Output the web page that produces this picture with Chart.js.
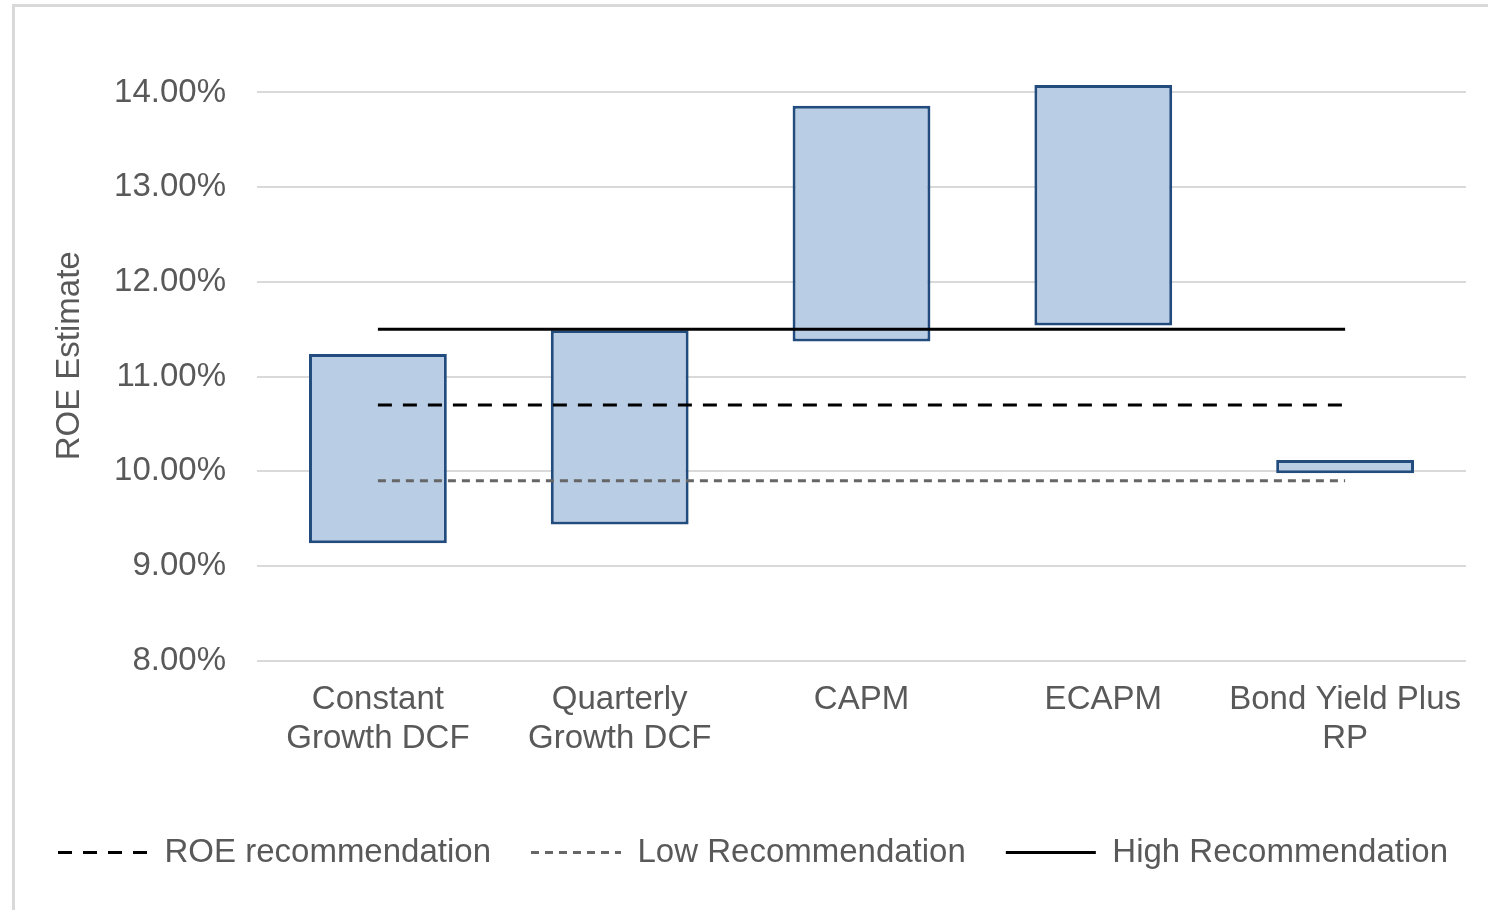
<!DOCTYPE html>
<html>
<head>
<meta charset="utf-8">
<script src="https://cdn.jsdelivr.net/npm/chart.js@4"></script>
<style>
    html, body { margin: 0; padding: 0; background: #fff; }
    #wrap { position: relative; width: 1488px; height: 910px; overflow: hidden; }
    #frame { position: absolute; left: 12px; top: 4px; width: 1500px; height: 940px; border: 3px solid #d9d9d9; }
    #box { position: absolute; left: 0; top: 0; width: 1488px; height: 910px; }
</style>
</head>
<body>
<div id="wrap">
    <div id="frame"></div>
    <div id="box"><canvas id="chart"></canvas></div>
</div>
<script>
    const categories = [
        ['Constant', 'Growth DCF'],
        ['Quarterly', 'Growth DCF'],
        'CAPM',
        'ECAPM',
        ['Bond Yield Plus', 'RP']
    ];
    // range of each estimate, in percent
    const lowValues = [9.24, 9.44, 11.37, 11.54, 9.98];
    const highValues = [11.24, 11.49, 13.86, 14.08, 10.12];

    const roeRecommendation = [10.7, 10.7, 10.7, 10.7, 10.7];
    const lowRecommendation = [9.9, 9.9, 9.9, 9.9, 9.9];
    const highRecommendation = [11.5, 11.5, 11.5, 11.5, 11.5];

    const yTicks = [8, 9, 10, 11, 12, 13, 14];

    const textColor = '#595959';
    const fontFamily = '"Liberation Sans", Arial, sans-serif';
    const fontSize = 33;

    let ranges = [];
    for (let i = 0; i < categories.length; i++) {
        ranges.push([lowValues[i], highValues[i]]);
    }

    const data = {
        labels: categories,
        datasets: [
            {
                type: 'bar',
                label: 'Range',
                data: ranges,
                backgroundColor: '#b9cde5',
                borderColor: '#224b7e',
                borderWidth: 3,
                borderSkipped: false,
                categoryPercentage: 1,
                barPercentage: 0.57,
                order: 1
            },
            {
                type: 'line',
                label: 'ROE recommendation',
                data: roeRecommendation,
                borderColor: '#000',
                borderWidth: 3,
                borderDash: [14, 11],
                pointRadius: 0,
                order: 0
            },
            {
                type: 'line',
                label: 'Low Recommendation',
                data: lowRecommendation,
                borderColor: '#666',
                borderWidth: 3,
                borderDash: [8, 6],
                pointRadius: 0,
                order: 0
            },
            {
                type: 'line',
                label: 'High Recommendation',
                data: highRecommendation,
                borderColor: '#000',
                borderWidth: 3,
                pointRadius: 0,
                order: 0
            }
        ]
    };

    const config = {
        type: 'bar',
        data,
        options: {
            responsive: true,
            maintainAspectRatio: false,
            animation: false,
            layout: {
                padding: {left: 0, right: 0, top: 40, bottom: 31}
            },
            scales: {
                x: {
                    grid: {display: false},
                    border: {display: false},
                    ticks: {
                        color: textColor,
                        font: {family: fontFamily, size: fontSize},
                        padding: 11,
                        maxRotation: 0
                    },
                    // room between the category labels and the legend
                    afterFit: axis => {
                        axis.height += 26;
                    }
                },
                y: {
                    min: 8,
                    max: 14.44,
                    afterBuildTicks: axis => {
                        axis.ticks = yTicks.map(v => ({value: v}));
                    },
                    afterFit: axis => {
                        axis.width = 257;
                    },
                    grid: {color: '#d9d9d9', lineWidth: 2, drawTicks: false},
                    border: {display: false},
                    ticks: {
                        color: textColor,
                        font: {family: fontFamily, size: fontSize},
                        padding: 31,
                        callback: v => v.toFixed(2) + '%'
                    },
                    title: {
                        display: true,
                        text: 'ROE Estimate',
                        color: textColor,
                        font: {family: fontFamily, size: fontSize},
                        padding: {top: 50, bottom: 25}
                    }
                },
                // empty right axis, only keeps a gap right of the plot
                yRight: {
                    position: 'right',
                    grid: {display: false},
                    border: {display: false},
                    ticks: {display: false},
                    afterFit: axis => {
                        axis.width = 22;
                    }
                }
            },
            plugins: {
                tooltip: {enabled: false},
                legend: {
                    position: 'bottom',
                    align: 'end',
                    labels: {
                        color: textColor,
                        font: {family: fontFamily, size: fontSize},
                        usePointStyle: true,
                        pointStyleWidth: 90,
                        padding: 40,
                        generateLabels: chart => chart.data.datasets.slice(1).map((ds, i) => ({
                            text: ds.label,
                            fillStyle: ds.borderColor,
                            strokeStyle: ds.borderColor,
                            lineWidth: ds.borderWidth,
                            lineDash: ds.borderDash || [],
                            pointStyle: 'line',
                            fontColor: textColor,
                            datasetIndex: i + 1
                        }))
                    }
                }
            }
        }
    };

    new Chart(document.getElementById('chart'), config);
</script>
</body>
</html>
